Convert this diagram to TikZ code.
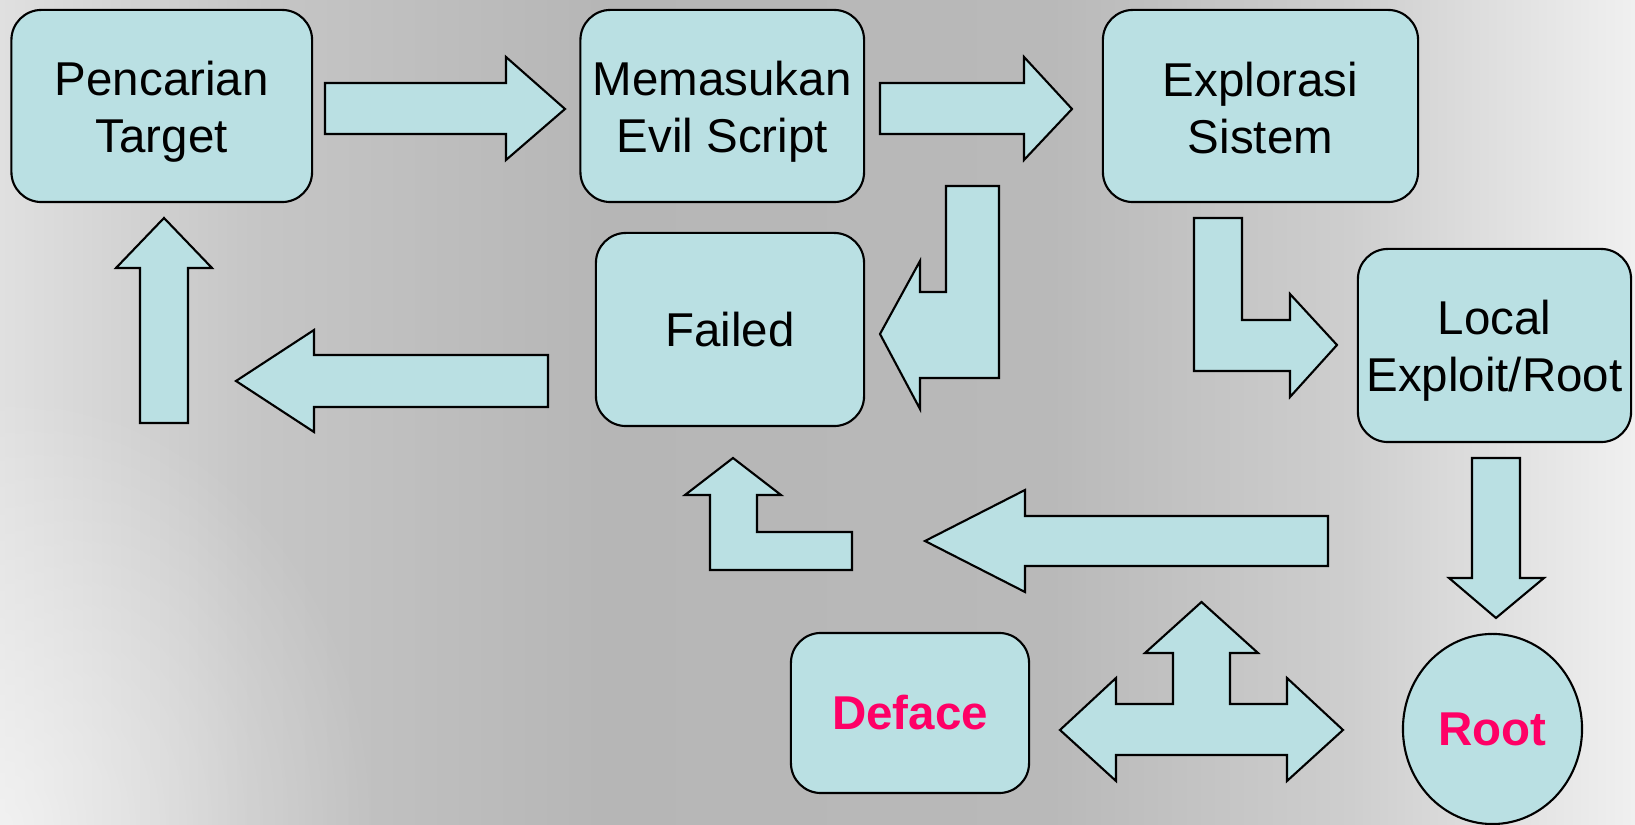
\documentclass[tikz,border=0pt]{standalone}
\usepackage{fontspec}
\setmainfont{Liberation Sans}
\usetikzlibrary{shapes.geometric,fadings}

\definecolor{boxfill}{RGB}{186,224,227}
\definecolor{hot}{RGB}{255,0,102}
\definecolor{bgA}{RGB}{224,224,224}
\definecolor{bgB}{RGB}{198,198,198}
\definecolor{bgC}{RGB}{182,182,182}
\definecolor{bgD}{RGB}{185,185,185}
\definecolor{bgE}{RGB}{206,206,206}
\definecolor{bgF}{RGB}{240,240,240}

\tikzfading[name=spotfade, inner color=transparent!0, outer color=transparent!100]

\begin{document}
\begin{tikzpicture}[x=0.01cm, y=-0.01cm, line join=miter,
  boxfont/.style={font=\fontsize{13.5}{16.2}\selectfont},
  block/.style={draw=black, line width=0.6pt, fill=boxfill, rounded corners=0.3cm,
    inner sep=0pt, align=center, boxfont},
  inner/.style={align=center, inner sep=0pt, boxfont},
  blockarrow/.style={draw=black, line width=0.6pt, fill=boxfill},
  hotlabel/.style={text=hot, font=\fontsize{13.5}{16.2}\selectfont\bfseries}]

\useasboundingbox (0,0) rectangle (1635,825);

% grey backdrop, lighter towards the left and right edges
\fill[left color=bgA, right color=bgB] (0,0) rectangle (251,825);
\fill[left color=bgB, right color=bgC] (250,0) rectangle (601,825);
\fill[left color=bgC, right color=bgD] (600,0) rectangle (1051,825);
\fill[left color=bgD, right color=bgE] (1050,0) rectangle (1351,825);
\fill[left color=bgE, right color=bgF] (1350,0) rectangle (1635,825);
\fill[white, opacity=0.55, path fading=spotfade] (0,825) ellipse [x radius=380, y radius=440];

% process boxes (two-line captions are set as centre labels, sitting slightly low)
\node[block, minimum width=3.005cm, minimum height=1.92cm,
  label={[inner, yshift=-0.06cm]center:Pencarian\\Target}] (pencarian) at (161.75,106) {};
\node[block, minimum width=2.835cm, minimum height=1.92cm,
  label={[inner, yshift=-0.06cm]center:Memasukan\\Evil Script}] (memasukan) at (722.25,106) {};
\node[block, minimum width=3.15cm, minimum height=1.92cm,
  label={[inner, yshift=-0.02cm]center:Explorasi\\Sistem}] (explorasi) at (1260.5,106) {};
\node[block, minimum width=2.68cm, minimum height=1.93cm] (failed) at (730,329.5) {Failed};
\node[block, minimum width=2.73cm, minimum height=1.93cm,
  label={[inner, yshift=-0.05cm]center:Local\\Exploit/Root}] (local) at (1494.5,345.5) {};
\node[block, hotlabel, minimum width=2.38cm, minimum height=1.60cm] (deface) at (910,713) {Deface};
\node[block, hotlabel, ellipse, sharp corners, minimum width=1.79cm, minimum height=1.90cm] (root) at (1492.5,729) {Root};

% block arrows
% Pencarian Target -> Memasukan Evil Script
\draw[blockarrow] (325,83) -- (506,83) -- (506,57) -- (565,109) -- (506,160) -- (506,134) -- (325,134) -- cycle;
% Memasukan Evil Script -> Explorasi Sistem
\draw[blockarrow] (880,83) -- (1024,83) -- (1024,57) -- (1072,109) -- (1024,160) -- (1024,134) -- (880,134) -- cycle;
% Memasukan Evil Script -> Failed (bent)
\draw[blockarrow] (946,186) -- (999,186) -- (999,378) -- (920,378) -- (920,409) -- (880,334) -- (920,261) -- (920,292) -- (946,292) -- cycle;
% Explorasi Sistem -> Local Exploit/Root (bent)
\draw[blockarrow] (1194,218) -- (1242,218) -- (1242,320) -- (1290,320) -- (1290,294) -- (1337,345) -- (1290,397) -- (1290,371) -- (1194,371) -- cycle;
% Local Exploit/Root -> Root
\draw[blockarrow] (1472,458) -- (1520,458) -- (1520,578) -- (1544,578) -- (1496,618) -- (1449,578) -- (1472,578) -- cycle;
% long arrow back to the left
\draw[blockarrow] (1328,516) -- (1025,516) -- (1025,490) -- (925,541) -- (1025,592) -- (1025,566) -- (1328,566) -- cycle;
% bent arrow up to Failed
\draw[blockarrow] (852,532) -- (757,532) -- (757,495) -- (781,495) -- (733,458) -- (685,495) -- (710,495) -- (710,570) -- (852,570) -- cycle;
% Failed -> left
\draw[blockarrow] (548,355) -- (314,355) -- (314,330) -- (236,381) -- (314,432) -- (314,407) -- (548,407) -- cycle;
% up to Pencarian Target
\draw[blockarrow] (140,423) -- (140,268) -- (116,268) -- (164,218) -- (212,268) -- (188,268) -- (188,423) -- cycle;
% three-way arrow between Deface and Root
\draw[blockarrow] (1060,730) -- (1116,678) -- (1116,704) -- (1173,704) -- (1173,653) -- (1145,653)
  -- (1201.5,602) -- (1258,653) -- (1230,653) -- (1230,704) -- (1287,704) -- (1287,678)
  -- (1343,730) -- (1287,781) -- (1287,755) -- (1116,755) -- (1116,781) -- cycle;

\end{tikzpicture}
\end{document}
